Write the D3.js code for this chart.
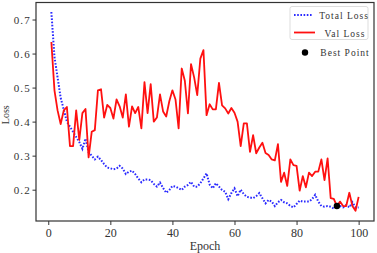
<!DOCTYPE html>
<html>
<head>
<meta charset="utf-8">
<script src="https://cdn.jsdelivr.net/npm/d3@7"></script>
<style>
  body { margin: 0; background: #fff; }
  svg text { font-family: "Liberation Serif", "DejaVu Serif", serif; }
</style>
</head>
<body>
<div id="chart"></div>
<script>
// epochs 1..100
let epochs = d3.range(1, 101)

let total_loss = [
    0.722, 0.59, 0.53, 0.47, 0.435, 0.40, 0.385, 0.37, 0.355, 0.34,
    0.32, 0.35, 0.31, 0.30, 0.289, 0.297, 0.287, 0.275, 0.265, 0.263,
    0.26, 0.262, 0.27, 0.262, 0.246, 0.253, 0.256, 0.246, 0.233, 0.222,
    0.23, 0.23, 0.228, 0.217, 0.209, 0.221, 0.205, 0.191, 0.199, 0.211,
    0.209, 0.204, 0.199, 0.209, 0.214, 0.223, 0.209, 0.209, 0.219, 0.233,
    0.248, 0.215, 0.204, 0.219, 0.209, 0.199, 0.194, 0.172, 0.19, 0.204,
    0.181, 0.2, 0.187, 0.179, 0.177, 0.175, 0.181, 0.19, 0.175, 0.16,
    0.17, 0.165, 0.152, 0.163, 0.17, 0.163, 0.16, 0.152, 0.148, 0.158,
    0.168, 0.165, 0.165, 0.165, 0.172, 0.185, 0.165, 0.152, 0.15, 0.152,
    0.15, 0.145, 0.155, 0.152, 0.148, 0.155, 0.148, 0.163, 0.148, 0.148
]

let val_loss = [
    0.634, 0.492, 0.433, 0.393, 0.433, 0.443, 0.328, 0.328, 0.433, 0.346,
    0.425, 0.437, 0.295, 0.37, 0.375, 0.492, 0.495, 0.412, 0.449, 0.44,
    0.409, 0.465, 0.445, 0.412, 0.48, 0.385, 0.445, 0.425, 0.443, 0.38,
    0.516, 0.425, 0.51, 0.40, 0.412, 0.48, 0.43, 0.415, 0.46, 0.492,
    0.465, 0.38, 0.556, 0.52, 0.424, 0.569, 0.53, 0.478, 0.585, 0.61,
    0.419, 0.451, 0.436, 0.436, 0.514, 0.448, 0.439, 0.424, 0.44, 0.426,
    0.4, 0.328, 0.395, 0.395, 0.311, 0.36, 0.307, 0.324, 0.338, 0.308,
    0.302, 0.289, 0.286, 0.334, 0.223, 0.25, 0.211, 0.289, 0.272, 0.27,
    0.197, 0.24, 0.207, 0.25, 0.24, 0.253, 0.253, 0.289, 0.228, 0.292,
    0.175, 0.173, 0.152, 0.165, 0.152, 0.152, 0.191, 0.152, 0.138, 0.179
]

let best_epoch = 93
let best_value = 0.152

let x_ticks = [0, 20, 40, 60, 80, 100]
let y_ticks = [0.2, 0.3, 0.4, 0.5, 0.6, 0.7]

let legend_labels = ["Total Loss", "Val Loss", "Best Point"]

var margin = {top: 2.5, right: 3, bottom: 32, left: 36},
    width = 377 - margin.left - margin.right,
    height = 253 - margin.top - margin.bottom;

var svg = d3.select("#chart")
    .append("svg")
    .attr("width", 377)
    .attr("height", 253)
    .append("g")
    .attr("transform", "translate(" + margin.left + "," + margin.top + ")");

var x = d3.scaleLinear()
    .domain([-3.95, 104.95])
    .range([0, width]);

var y = d3.scaleLinear()
    .domain([0.108, 0.75])
    .range([height, 0]);

// X axis
var xAxis = svg.append("g")
    .attr("transform", "translate(0," + height + ")")
    .call(d3.axisBottom(x).tickValues(x_ticks).tickSize(4).tickPadding(3).tickSizeOuter(0));
xAxis.select(".domain").remove()
xAxis.selectAll("line").attr("stroke", "#333")
xAxis.selectAll("text")
    .style("font-size", "12px")
    .style("fill", "#333")

// Y axis
var yAxis = svg.append("g")
    .call(d3.axisLeft(y).tickValues(y_ticks).tickSize(3.5).tickPadding(1.5).tickSizeOuter(0)
        .tickFormat(function (d) { return d3.format(".1f")(d); }));
yAxis.select(".domain").remove()
yAxis.selectAll("line").attr("stroke", "#333")
yAxis.selectAll("text")
    .style("font-size", "11px")
    .style("fill", "#333")
    .style("letter-spacing", "1.2px")

// frame
svg.append("rect")
    .attr("x", 0)
    .attr("y", 0)
    .attr("width", width)
    .attr("height", height)
    .style("fill", "none")
    .style("stroke", "#333")
    .style("stroke-width", 1.2)

// labels
svg.append("text")
    .attr("text-anchor", "middle")
    .attr("x", width / 2)
    .attr("y", height + 29)
    .text("Epoch")
    .style("font-size", "12px")
    .style("fill", "#333")
svg.append("text")
    .attr("text-anchor", "middle")
    .attr("transform", "rotate(-90)")
    .attr("x", -(height / 2 + 3))
    .attr("y", -27)
    .text("Loss")
    .style("font-size", "10px")
    .style("fill", "#333")

// lines
var line_total = d3.line()
    .x(function (d, i) { return x(epochs[i]); })
    .y(function (d) { return y(d); })

svg.append("path")
    .datum(total_loss)
    .attr("d", line_total)
    .style("fill", "none")
    .style("stroke", "#2b2bff")
    .style("stroke-width", 2)
    .style("stroke-dasharray", "1.6,1.6")

svg.append("path")
    .datum(val_loss)
    .attr("d", line_total)
    .style("fill", "none")
    .style("stroke", "#ff1010")
    .style("stroke-width", 1.8)
    .style("stroke-linejoin", "round")

// best point
svg.append("circle")
    .attr("cx", x(best_epoch))
    .attr("cy", y(best_value))
    .attr("r", 3.2)
    .style("fill", "#000")

// legend
var lg = svg.append("g")
    .attr("transform", "translate(" + (width - 84) + ",4)")
lg.append("rect")
    .attr("width", 78)
    .attr("height", 33)
    .attr("rx", 2)
    .style("fill", "#fff")
    .style("stroke", "#ddd")
    .style("stroke-width", 1)
lg.append("line")
    .attr("x1", 4).attr("x2", 23)
    .attr("y1", 8.5).attr("y2", 8.5)
    .style("stroke", "#2b2bff")
    .style("stroke-width", 2)
    .style("stroke-dasharray", "1.6,1.6")
lg.append("line")
    .attr("x1", 4).attr("x2", 25)
    .attr("y1", 26).attr("y2", 26)
    .style("stroke", "#ff1010")
    .style("stroke-width", 1.8)
lg.append("text")
    .attr("x", 54)
    .attr("y", 12)
    .attr("text-anchor", "middle")
    .text(legend_labels[0])
    .style("font-size", "9.5px")
    .style("fill", "#333")
    .style("letter-spacing", "1px")
lg.append("text")
    .attr("x", 55)
    .attr("y", 30)
    .attr("text-anchor", "middle")
    .text(legend_labels[1])
    .style("font-size", "9.5px")
    .style("fill", "#333")
    .style("letter-spacing", "1px")
lg.append("circle")
    .attr("cx", 15)
    .attr("cy", 46)
    .attr("r", 3.2)
    .style("fill", "#000")
lg.append("text")
    .attr("x", 55)
    .attr("y", 49.5)
    .attr("text-anchor", "middle")
    .text(legend_labels[2])
    .style("font-size", "9.5px")
    .style("fill", "#333")
    .style("letter-spacing", "1px")
</script>
</body>
</html>
